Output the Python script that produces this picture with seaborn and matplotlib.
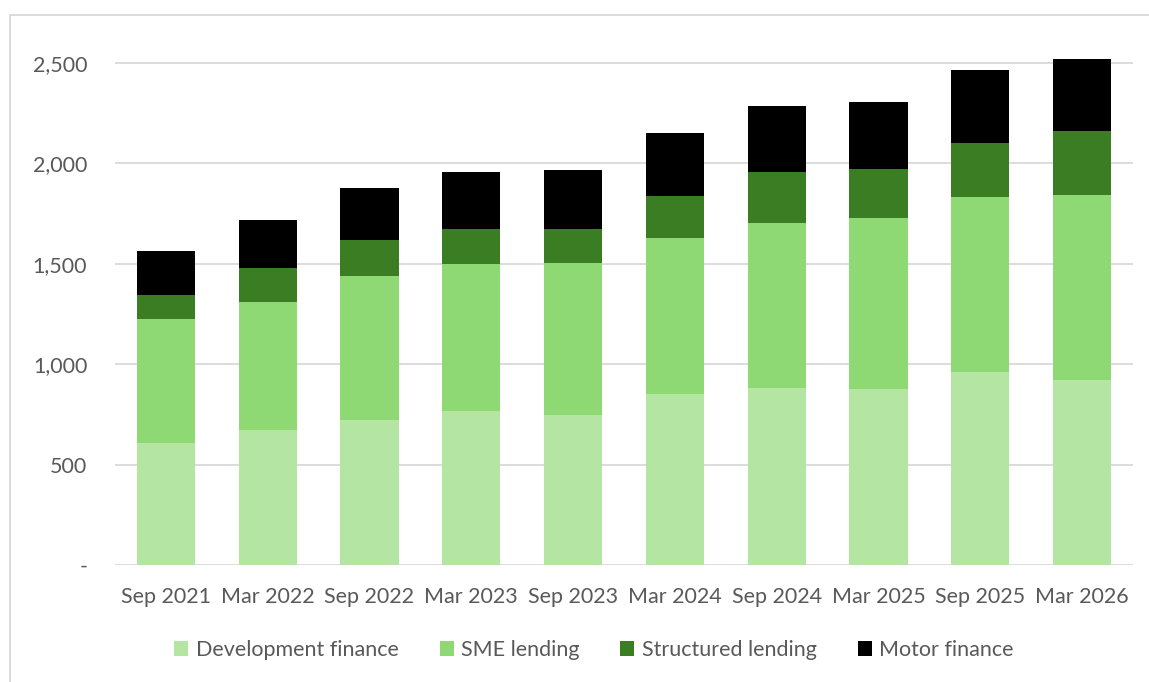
import matplotlib
matplotlib.use("Agg")
import matplotlib.pyplot as plt
from matplotlib.lines import Line2D
from matplotlib.patches import Patch
import seaborn as sns
import pandas as pd
import numpy as np

periods = ["Sep 2021", "Mar 2022", "Sep 2022", "Mar 2023", "Sep 2023",
           "Mar 2024", "Sep 2024", "Mar 2025", "Sep 2025", "Mar 2026"]
development_finance = [606, 671, 721, 765, 745, 850, 881, 876, 961, 921]
sme_lending = [618, 639, 720, 735, 758, 777, 820, 853, 873, 923]
structured_lending = [119, 171, 177, 173, 170, 213, 255, 244, 270, 320]
motor_finance = [222, 237, 259, 285, 295, 312, 331, 334, 360, 355]
series_names = ["Development finance", "SME lending", "Structured lending", "Motor finance"]
colors = ["#B4E5A2", "#8ED973", "#3B7D23", "#000000"]
y_ticks = [0, 500, 1000, 1500, 2000, 2500]

sns.set_theme(style="white")
plt.rcParams["font.family"] = ["Lato", "DejaVu Sans"]

fig = plt.figure(figsize=(11.49, 6.82), dpi=100)
ax = fig.add_axes([115 / 1149, 117 / 682, (1133 - 115) / 1149, (565 - 51) / 682])

values = [development_finance, sme_lending, structured_lending, motor_finance]
cum = np.cumsum(np.array(values), axis=0)
# draw from top total down so lower segments cover upper ones
for i in range(len(series_names) - 1, -1, -1):
    df = pd.DataFrame({"period": periods, "value": cum[i]})
    sns.barplot(data=df, x="period", y="value", color=colors[i], width=0.57,
                ax=ax, saturation=1, zorder=3, edgecolor="none", linewidth=0)

ax.set_xlim(-0.5, 9.5)
ax.set_ylim(0, 2560)
ax.set_yticks(y_ticks)
ax.set_yticklabels(["-" if v == 0 else f"{v:,}" for v in y_ticks])
ax.set_xlabel("")
ax.set_ylabel("")
for s in ax.spines.values():
    s.set_visible(False)
ax.grid(axis="y", color="#D9D9D9", linewidth=1.3, zorder=0)
ax.grid(axis="x", visible=False)
ax.tick_params(axis="both", length=0, labelsize=15.5, colors="#595959")
ax.tick_params(axis="y", pad=20)
ax.tick_params(axis="x", pad=16)

handles = [Patch(facecolor=c, edgecolor="none") for c in colors]
leg = fig.legend(handles, series_names, loc="center", bbox_to_anchor=(0.517, 1 - 650 / 682),
                 ncol=4, frameon=False, fontsize=15.5, handlelength=0.65, handleheight=0.65,
                 handletextpad=0.35, columnspacing=1.9)
for t in leg.get_texts():
    t.set_color("#595959")

# chart area border (top and left)
fig.add_artist(Line2D([10 / 1149, 1.0], [1 - 15 / 682, 1 - 15 / 682], color="#D9D9D9",
                      linewidth=1.3, transform=fig.transFigure))
fig.add_artist(Line2D([10 / 1149, 10 / 1149], [0.0, 1 - 15 / 682], color="#D9D9D9",
                      linewidth=1.3, transform=fig.transFigure))

fig.savefig("out.png", dpi=100, facecolor="white")
